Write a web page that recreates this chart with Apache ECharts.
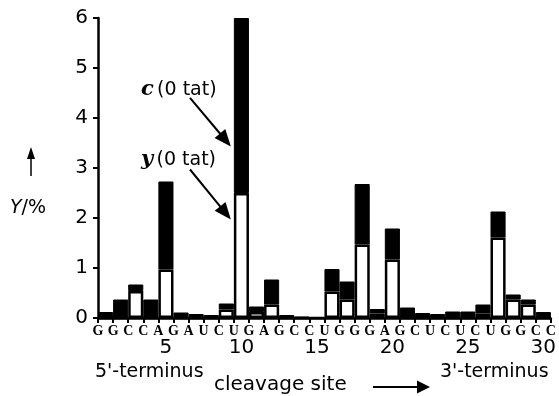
<!DOCTYPE html>
<html>
<head>
<meta charset="utf-8">
<script src="https://cdn.jsdelivr.net/npm/echarts@6/dist/echarts.min.js"></script>
<style>
  html, body { margin: 0; padding: 0; background: #fff; }
  #chart { width: 559px; height: 396px; }
</style>
</head>
<body>
<div id="chart"></div>
<script>
// Cleavage sites 1..30 (bars sit between neighbouring nucleotides)
const sites = ['1','2','3','4','5','6','7','8','9','10','11','12','13','14','15',
               '16','17','18','19','20','21','22','23','24','25','26','27','28','29','30'];
// Nucleotide sequence, one letter per tick (31 ticks)
const sequence = ['G','G','C','C','A','G','A','U','C','U','G','A','G','C','C','U',
                  'G','G','G','A','G','C','U','C','U','C','U','G','G','C','C'];
// y fragment yield (%), white lower part
const yFragment = [0, 0, 0.54, 0, 0.97, 0, 0, 0, 0.17, 2.5,
                   0.12, 0.27, 0, 0, 0, 0.53, 0.37, 1.47, 0.09, 1.17,
                   0, 0, 0, 0, 0, 0.09, 1.61, 0.37, 0.27, 0];
// c fragment yield (%), black part stacked on top
const cFragment = [0.12, 0.37, 0.13, 0.37, 1.76, 0.11, 0.08, 0.06, 0.12, 3.5,
                   0.11, 0.5, 0.06, 0.03, 0.02, 0.45, 0.36, 1.21, 0.09, 0.62,
                   0.21, 0.1, 0.08, 0.13, 0.13, 0.18, 0.52, 0.1, 0.1, 0.12];
const yTicks = [0, 1, 2, 3, 4, 5, 6];

const SANS = '"DejaVu Sans", sans-serif';
const chart = echarts.init(document.getElementById('chart'), null, { renderer: 'canvas' });

const option = {
  animation: false,
  backgroundColor: '#fff',
  grid: { left: 98, right: 4.5, top: 18, bottom: 78, containLabel: false },
  xAxis: [
    {
      type: 'category',
      data: sites,
      boundaryGap: true,
      z: 5,
      axisLine: { show: true, lineStyle: { color: '#000', width: 2.5 } },
      axisTick: { show: true, interval: 0, length: 5, lineStyle: { color: '#000', width: 2 } },
      axisLabel: {
        interval: (i) => (i + 1) % 5 === 0,
        margin: 20, color: '#000', fontSize: 20, fontFamily: SANS
      },
      splitLine: { show: false }
    },
    {
      type: 'value',
      position: 'bottom',
      min: 0, max: 30, interval: 1,
      axisLine: { show: false },
      axisTick: { show: false },
      splitLine: { show: false },
      axisLabel: {
        margin: 6, color: '#000', fontSize: 14, fontWeight: 'bold',
        fontFamily: '"Liberation Serif", serif',
        showMinLabel: true, showMaxLabel: true,
        formatter: (v) => sequence[v] || ''
      }
    }
  ],
  yAxis: {
    type: 'value',
    min: yTicks[0], max: yTicks[yTicks.length - 1], interval: 1,
    z: 5,
    axisLine: { show: true, lineStyle: { color: '#000', width: 2.5 } },
    axisTick: { show: true, inside: false, length: 5, lineStyle: { color: '#000', width: 2 } },
    axisLabel: { margin: 10, color: '#000', fontSize: 20, fontFamily: SANS },
    splitLine: { show: false }
  },
  series: [
    {
      name: 'y', type: 'bar', stack: 'frag', xAxisIndex: 0,
      barWidth: '100%', barCategoryGap: '0%', data: yFragment,
      itemStyle: { color: '#fff', borderColor: '#000', borderWidth: 2.5 }
    },
    {
      name: 'c', type: 'bar', stack: 'frag', xAxisIndex: 0,
      barWidth: '100%', barCategoryGap: '0%', data: cFragment,
      itemStyle: { color: '#000', borderColor: '#000', borderWidth: 1 }
    }
  ]
};
chart.setOption(option);

// Straight arrow with a filled triangular head at (x2, y2)
function arrow(x1, y1, x2, y2, headLen, headHalf, lw) {
  const dx = x2 - x1, dy = y2 - y1;
  const len = Math.hypot(dx, dy);
  const ux = dx / len, uy = dy / len;
  const bx = x2 - ux * headLen, by = y2 - uy * headLen;
  return [
    { type: 'line', shape: { x1: x1, y1: y1, x2: bx + ux, y2: by + uy },
      style: { stroke: '#000', lineWidth: lw } },
    { type: 'polygon',
      shape: { points: [[x2, y2], [bx - uy * headHalf, by + ux * headHalf], [bx + uy * headHalf, by - ux * headHalf]] },
      style: { fill: '#000' } }
  ];
}

// Annotation arrows point at the left side of the site-10 bar
const leftOf10 = chart.convertToPixel({ xAxisIndex: 1 }, 9) - 3;
const cTipY = chart.convertToPixel({ yAxisIndex: 0 }, 3.43);
const yTipY = chart.convertToPixel({ yAxisIndex: 0 }, 1.97);

const labelRich = {
  b: { font: 'bold italic 21px "DejaVu Serif", serif', fill: '#000' },
  n: { font: '19px ' + SANS, fill: '#000' }
};

const graphics = [
  { type: 'text', x: 141, y: 90,
    style: { text: '{b|c} {n|(0 tat)}', rich: labelRich, verticalAlign: 'middle', fill: '#000' } },
  { type: 'text', x: 141, y: 160,
    style: { text: '{b|y} {n|(0 tat)}', rich: labelRich, verticalAlign: 'middle', fill: '#000' } },
  ...arrow(190, cTipY - 48.7, leftOf10, cTipY, 17, 7, 2),
  ...arrow(190, yTipY - 50, leftOf10, yTipY, 17, 7, 2),
  // y-axis name with upward arrow
  ...arrow(31, 176, 31, 147, 12, 4, 1.5),
  { type: 'text', x: 10, y: 208,
    style: { text: '{i|Y}{n|/%}', verticalAlign: 'middle',
      rich: { i: { font: 'italic 19px ' + SANS, fill: '#000' },
              n: { font: '19px ' + SANS, fill: '#000' } } } },
  // x-axis captions
  { type: 'text', x: 95, y: 372,
    style: { text: "5'-terminus", font: '19px ' + SANS, fill: '#000', verticalAlign: 'middle' } },
  { type: 'text', x: 214, y: 385,
    style: { text: 'cleavage site', font: '20px ' + SANS, fill: '#000', verticalAlign: 'middle' } },
  ...arrow(373, 387, 430, 387, 13, 6.5, 2),
  { type: 'text', x: 440, y: 372,
    style: { text: "3'-terminus", font: '19px ' + SANS, fill: '#000', verticalAlign: 'middle' } }
];
chart.setOption({ graphic: { elements: graphics } });
</script>
</body>
</html>
